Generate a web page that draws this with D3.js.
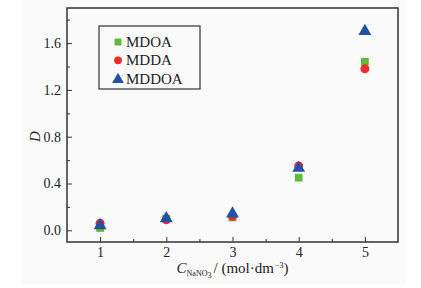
<!DOCTYPE html>
<html>
<head>
<meta charset="utf-8">
<script src="https://cdn.jsdelivr.net/npm/d3@7"></script>
<style>
  body { margin: 0; background: #fff; }
  svg, svg text { font-family: "Liberation Serif", "Times New Roman", Times, serif; }
</style>
</head>
<body>
<div id="chart"></div>
<script>
const concentrations = [1, 2, 3, 4, 5];
const mdoaValues = [0.02, 0.10, 0.11, 0.45, 1.44];
const mddaValues = [0.06, 0.09, 0.12, 0.55, 1.38];
const mddoaValues = [0.05, 0.11, 0.15, 0.54, 1.71];
const yTickValues = [0.0, 0.4, 0.8, 1.2, 1.6];

const SERIES = [
  { name: 'MDOA', values: mdoaValues, color: '#5cbb3c', shape: d3.symbolSquare },
  { name: 'MDDA', values: mddaValues, color: '#ee2a2a', shape: d3.symbolCircle },
  { name: 'MDDOA', values: mddoaValues, color: '#2152a6', shape: d3.symbolTriangle }
];

const WIDTH = 421, HEIGHT = 288;
const MARGIN = { top: 8, right: 23, bottom: 46, left: 67 };
const innerW = WIDTH - MARGIN.left - MARGIN.right;
const innerH = HEIGHT - MARGIN.top - MARGIN.bottom;

const svg = d3.select('#chart').append('svg')
  .attr('width', WIDTH)
  .attr('height', HEIGHT);

svg.append('rect')
  .attr('x', 22).attr('y', 0)
  .attr('width', 384).attr('height', 284)
  .attr('fill', '#fafafa');

const g = svg.append('g')
  .attr('transform', `translate(${MARGIN.left}, ${MARGIN.top})`);

const x = d3.scaleLinear().domain([0.5, 5.5]).range([0, innerW]);
const y = d3.scaleLinear().domain([-0.1, 1.9]).range([innerH, 0]);

// minor ticks
g.append('g')
  .attr('transform', `translate(0, ${innerH})`)
  .call(d3.axisBottom(x).tickValues([1.5, 2.5, 3.5, 4.5]).tickSizeInner(-3).tickSizeOuter(0).tickFormat(''))
  .call(a => a.select('.domain').remove());
g.append('g')
  .call(d3.axisLeft(y).tickValues([0.2, 0.6, 1.0, 1.4, 1.8]).tickSizeInner(-3).tickSizeOuter(0).tickFormat(''))
  .call(a => a.select('.domain').remove());

// major ticks
const xAxis = g.append('g')
  .attr('transform', `translate(0, ${innerH})`)
  .call(d3.axisBottom(x).tickValues(concentrations).tickSizeInner(-5).tickSizeOuter(0).tickPadding(5).tickFormat(d3.format('d')));
const yAxis = g.append('g')
  .call(d3.axisLeft(y).tickValues(yTickValues).tickSizeInner(-5).tickSizeOuter(0).tickPadding(6).tickFormat(d3.format('.1f')));

[xAxis, yAxis].forEach(a => {
  a.attr('font-family', null).attr('font-size', null);
  a.select('.domain').remove();
  a.selectAll('text').attr('font-size', 14).attr('fill', '#222');
});
g.selectAll('.tick line').attr('stroke', '#333').attr('stroke-width', 1);

// frame
g.append('rect')
  .attr('width', innerW).attr('height', innerH)
  .attr('fill', 'none').attr('stroke', '#333').attr('stroke-width', 1.5);

// points
SERIES.forEach(s => {
  const sym = d3.symbol().type(s.shape).size(s.shape === d3.symbolTriangle ? 72 : s.shape === d3.symbolSquare ? 60 : 64);
  g.append('g').selectAll('path')
    .data(concentrations.map((c, i) => ({ c, v: s.values[i] })))
    .join('path')
      .attr('d', sym)
      .attr('transform', d => `translate(${x(d.c)}, ${y(d.v) + (s.shape === d3.symbolTriangle ? 1 : 0)})`)
      .attr('fill', s.color);
});

// legend
const legend = g.append('g').attr('transform', 'translate(32, 18)');
legend.append('rect')
  .attr('width', 101).attr('height', 63)
  .attr('fill', 'none').attr('stroke', '#333').attr('stroke-width', 1.2);
SERIES.forEach((s, i) => {
  const row = legend.append('g').attr('transform', `translate(19, ${16 + i * 18.3})`);
  row.append('path')
    .attr('d', d3.symbol().type(s.shape).size(s.shape === d3.symbolTriangle ? 60 : 48))
    .attr('transform', s.shape === d3.symbolTriangle ? 'translate(0,1)' : null)
    .attr('fill', s.color);
  row.append('text')
    .attr('x', 8).attr('y', 5)
    .attr('font-size', 15)
    .attr('fill', '#222')
    .text(s.name);
});

// axis titles
const xt = svg.append('text')
  .attr('x', MARGIN.left + innerW / 2)
  .attr('y', 273)
  .attr('text-anchor', 'middle')
  .attr('font-size', 15)
  .attr('fill', '#222');
xt.append('tspan').attr('font-style', 'italic').text('C');
xt.append('tspan').attr('font-size', 8).attr('dy', 3).text('NaNO');
xt.append('tspan').attr('font-size', 8).attr('dy', 2).text('3');
xt.append('tspan').attr('dy', -5).attr('dx', 2).text('/ (mol·dm');
xt.append('tspan').attr('font-size', 8).attr('dy', -5).attr('dx', 1).text('−3');
xt.append('tspan').attr('dy', 5).text(')');

svg.append('text')
  .attr('transform', `translate(40, ${MARGIN.top + y(0.8)}) rotate(-90)`)
  .attr('text-anchor', 'middle')
  .attr('font-size', 15)
  .attr('font-style', 'italic')
  .attr('fill', '#222')
  .text('D');
</script>
</body>
</html>
